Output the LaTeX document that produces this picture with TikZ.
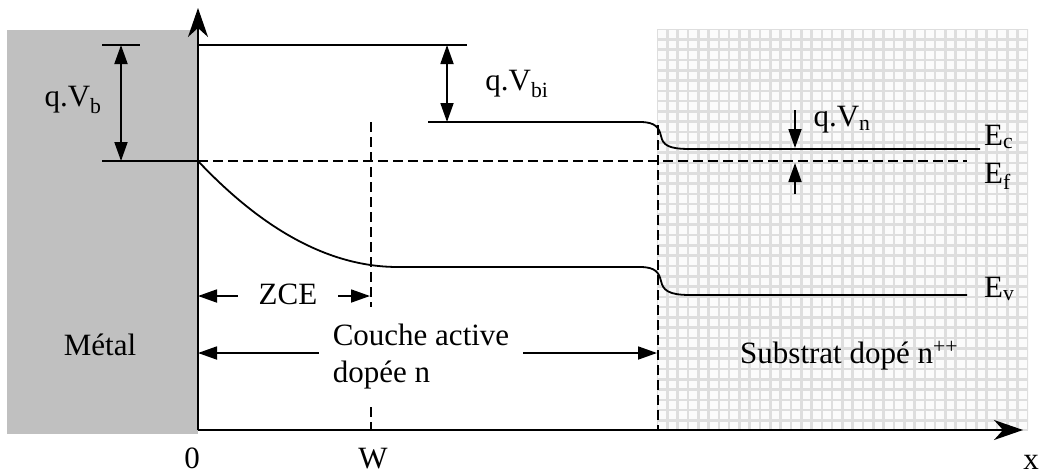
\documentclass[tikz,border=0pt]{standalone}
\usepackage{fontspec}
\setmainfont{Liberation Serif}
\usetikzlibrary{arrows.meta}
\definecolor{metalgray}{RGB}{192,192,192}
\definecolor{gridgray}{RGB}{222,222,222}
\begin{document}
\begin{tikzpicture}[x=1pt,y=-1pt,
  lbl/.style={font=\fontsize{31}{37}\selectfont, inner sep=0pt},
  axis/.style={line width=2pt, -{Stealth[length=29pt,width=20pt,inset=9pt]}},
  band/.style={line width=1.8pt},
  dimarr/.style={line width=1.8pt, {Triangle[length=19pt,width=13pt]}-{Triangle[length=19pt,width=13pt]}},
  onearr/.style={line width=1.8pt, -{Triangle[length=19pt,width=13pt]}},
  dsh/.style={line width=1.6pt, dash pattern=on 10pt off 5pt},
  gridl/.style={gridgray, line width=2.6pt},
  cover/.style={fill=white},
]
\useasboundingbox (0,0) rectangle (1042,474);
% metal and substrate regions
\fill[metalgray] (7,30) rectangle (198,434);
\fill[white!97!gray] (657,29) rectangle (1028,430);
\begin{scope}
\clip (657,29) rectangle (1028,430);
\foreach \i in {0,...,36} \draw[gridl] ({657+10.3*\i},29) -- ++(0,401);
\foreach \j in {0,...,39} \draw[gridl] (657,{29+10.3*\j}) -- ++(371,0);
\end{scope}
% coordinates
\coordinate (O) at (198,430);
\coordinate (ytop) at (198,8);
\coordinate (xend) at (1023,430);
\coordinate (ecA) at (198,45);
\coordinate (ecB) at (467,45);
\coordinate (vbT1) at (102,45);
\coordinate (vbT2) at (140,45);
\coordinate (vbB1) at (102,161);
\coordinate (vbB2) at (198,161);
\coordinate (vbU) at (121,45);
\coordinate (vbD) at (121,161);
\coordinate (vbiU) at (447,45);
\coordinate (vbiD) at (447,122);
\coordinate (ecN) at (428,122);
\coordinate (ecE) at (980,149);
\coordinate (efA) at (198,161);
\coordinate (efB) at (967,161);
\coordinate (evE) at (967,295);
\coordinate (wT) at (371,122);
\coordinate (wB) at (371,430);
\coordinate (iT) at (658,125);
\coordinate (iB) at (658,430);
\coordinate (vnT) at (795,110);
\coordinate (vnTt) at (795,148);
\coordinate (vnB) at (795,194);
\coordinate (vnBt) at (795,163);
\coordinate (zA) at (198,296);
\coordinate (zB) at (370,296);
\coordinate (cA) at (198,353);
\coordinate (cB) at (657,353);
% axes
\draw[axis] (O) -- (ytop);
\draw[axis] (O) -- (xend);
% bands
\draw[band] (ecA) -- (ecB);
\draw[band] (vbT1) -- (vbT2);
\draw[band] (vbB1) -- (vbB2);
\draw[dimarr] (vbU) -- (vbD);
\draw[dimarr] (vbiU) -- (vbiD);
\draw[band] (ecN) -- (640,122) .. controls (656,122) and (659,128) .. (661,136)
  .. controls (663,145) and (668,149) .. (690,149) -- (ecE);
\draw[dsh] (efA) -- (efB);
\draw[band] (efA) .. controls (264.7,231.7) and (331.3,267) .. (398,267) -- (640,267)
  .. controls (656,267) and (659,273) .. (661,281)
  .. controls (663,290) and (668,295) .. (690,295) -- (evE);
\draw[dsh] (wT) -- (wB);
\draw[dsh] (iT) -- (iB);
\draw[onearr] (vnT) -- (vnTt);
\draw[onearr] (vnB) -- (vnBt);
\draw[dimarr] (zA) -- (zB);
\draw[dimarr] (cA) -- (cB);
% labels
\node[lbl] (lvb) at (73,100) {q.V\textsubscript{b}};
\node[lbl] (lvbi) at (517,84) {q.V\textsubscript{bi}};
\node[lbl] (lvn) at (842,120) {q.V\textsubscript{n}};
\node[lbl, anchor=base west] (lec) at (984,145) {E\textsubscript{c}};
\node[lbl, anchor=base west] (lef) at (984,183) {E\textsubscript{f}};
\node[lbl, anchor=base west] (lev) at (984,297) {E\textsubscript{v}};
\node[lbl, cover, inner xsep=21pt, inner ysep=2pt, anchor=base] (lzce) at (288,304) {ZCE};
\node[lbl, cover, inner xsep=14pt, inner ysep=17pt, align=left] (lca) at (421,357) {Couche active\\dopée n};
\node[lbl, anchor=base] (lmet) at (100,355) {Métal};
\node[lbl, anchor=base west] (lsub) at (740,363) {Substrat dopé n\textsuperscript{++}};
\node[lbl, anchor=base] (l0) at (192,468) {0};
\node[lbl, anchor=base] (lw) at (373,468) {W};
\node[lbl, anchor=base] (lx) at (1031,469) {x};
\end{tikzpicture}
\end{document}
